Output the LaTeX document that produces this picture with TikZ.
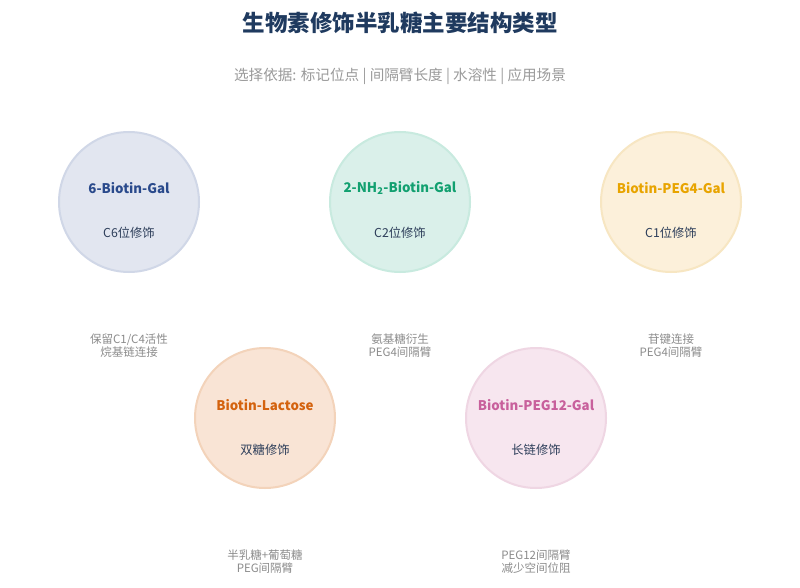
\documentclass[tikz,border=0pt]{standalone}
\usepackage{fontspec}
\setmainfont{Noto Sans CJK SC}
\definecolor{titlec}{HTML}{1F3A5F}
\definecolor{subc}{HTML}{9A9A9A}
\definecolor{notec}{HTML}{8C8C8C}
\definecolor{darkt}{HTML}{2D3E5A}
\definecolor{f1}{HTML}{E2E6F0}\definecolor{s1}{HTML}{D0D7E7}\definecolor{t1}{HTML}{2A4A8C}
\definecolor{f2}{HTML}{DAF0EA}\definecolor{s2}{HTML}{C8EADF}\definecolor{t2}{HTML}{12A070}
\definecolor{f3}{HTML}{FCF0DA}\definecolor{s3}{HTML}{F7E6C2}\definecolor{t3}{HTML}{E8A400}
\definecolor{f4}{HTML}{F9E4D5}\definecolor{s4}{HTML}{F3D3BA}\definecolor{t4}{HTML}{D4620E}
\definecolor{f5}{HTML}{F7E6EF}\definecolor{s5}{HTML}{EFD6E3}\definecolor{t5}{HTML}{C8609C}
\begin{document}
\begin{tikzpicture}[x=1pt,y=-1pt,
  disc/.style={circle,minimum size=140pt,inner sep=0pt,line width=2pt},
  nametext/.style={font=\fontsize{13.3}{16}\selectfont\bfseries},
  kindtext/.style={font=\fontsize{12.3}{14}\selectfont,text=darkt},
  notetext/.style={font=\fontsize{11.5}{12.5}\selectfont,text=notec,align=center}]
\useasboundingbox[fill=white] (0,0) rectangle (800,588);
\node[font=\fontsize{22.5}{26}\selectfont\bfseries,text=titlec] (title) at (400,23) {生物素修饰半乳糖主要结构类型};
\node[font=\fontsize{14.6}{17}\selectfont,text=subc] (subtitle) at (400,76) {选择依据: 标记位点 | 间隔臂长度 | 水溶性 | 应用场景};
% circles
\node[disc,fill=f1,draw=s1] (c1) at (129,202) {};
\node[disc,fill=f2,draw=s2] (c2) at (400,202) {};
\node[disc,fill=f3,draw=s3] (c3) at (671,202) {};
\node[disc,fill=f4,draw=s4] (c4) at (265,418) {};
\node[disc,fill=f5,draw=s5] (c5) at (536,418) {};
% names
\node[nametext,text=t1] (n1) at (129,188) {6-Biotin-Gal};
\node[nametext,text=t2] (n2) at (400,188) {2-NH\textsubscript{2}-Biotin-Gal};
\node[nametext,text=t3] (n3) at (671,188) {Biotin-PEG4-Gal};
\node[nametext,text=t4] (n4) at (265,405) {Biotin-Lactose};
\node[nametext,text=t5] (n5) at (536,405) {Biotin-PEG12-Gal};
% kinds
\node[kindtext] (k1) at (129,233) {C6位修饰};
\node[kindtext] (k2) at (400,233) {C2位修饰};
\node[kindtext] (k3) at (671,233) {C1位修饰};
\node[kindtext] (k4) at (265,450) {双糖修饰};
\node[kindtext] (k5) at (536,450) {长链修饰};
% notes
\node[notetext] (m1) at (129,345.5) {保留C1/C4活性\\烷基链连接};
\node[notetext] (m2) at (400,345.5) {氨基糖衍生\\PEG4间隔臂};
\node[notetext] (m3) at (671,345.5) {苷键连接\\PEG4间隔臂};
\node[notetext] (m4) at (265,561.5) {半乳糖+葡萄糖\\PEG间隔臂};
\node[notetext] (m5) at (536,561.5) {PEG12间隔臂\\减少空间位阻};
\end{tikzpicture}
\end{document}
